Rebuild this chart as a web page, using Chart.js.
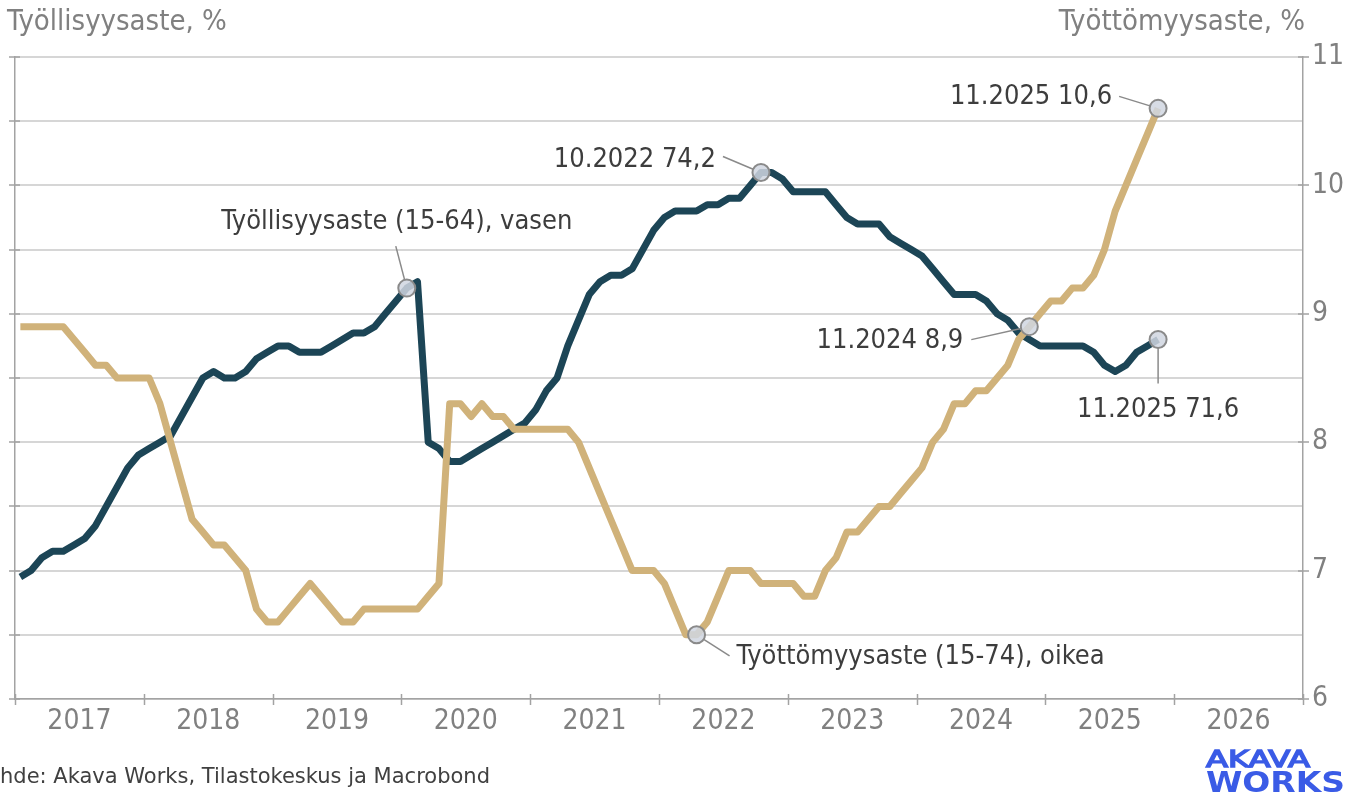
<!DOCTYPE html>
<html>
<head>
<meta charset="utf-8">
<script src="https://cdn.jsdelivr.net/npm/chart.js@4.4.1/dist/chart.umd.min.js"></script>
<style>
    html, body { margin: 0; padding: 0; background: #fff; }
    canvas { display: block; }
</style>
</head>
<body>
<canvas id="chart" width="1346" height="800"></canvas>
<script>
// Monthly data, 1.2017 - 11.2025
const years = ['2017', '2018', '2019', '2020', '2021', '2022', '2023', '2024', '2025', '2026'];

// Työllisyysaste (15-64), vasen akseli
const employment = [
    67.9, 68.0, 68.2, 68.3, 68.3, 68.4, 68.5, 68.7, 69.0, 69.3, 69.6, 69.8,
    69.9, 70.0, 70.1, 70.4, 70.7, 71.0, 71.1, 71.0, 71.0, 71.1, 71.3, 71.4,
    71.5, 71.5, 71.4, 71.4, 71.4, 71.5, 71.6, 71.7, 71.7, 71.8, 72.0, 72.2,
    72.4, 72.5, 70.0, 69.9, 69.7, 69.7, 69.8, 69.9, 70.0, 70.1, 70.2, 70.3,
    70.5, 70.8, 71.0, 71.5, 71.9, 72.3, 72.5, 72.6, 72.6, 72.7, 73.0, 73.3,
    73.5, 73.6, 73.6, 73.6, 73.7, 73.7, 73.8, 73.8, 74.0, 74.2, 74.2, 74.1,
    73.9, 73.9, 73.9, 73.9, 73.7, 73.5, 73.4, 73.4, 73.4, 73.2, 73.1, 73.0,
    72.9, 72.7, 72.5, 72.3, 72.3, 72.3, 72.2, 72.0, 71.9, 71.7, 71.6, 71.5,
    71.5, 71.5, 71.5, 71.5, 71.4, 71.2, 71.1, 71.2, 71.4, 71.5, 71.6
];

// Työttömyysaste (15-74), oikea akseli
const unemployment = [
    8.9, 8.9, 8.9, 8.9, 8.9, 8.8, 8.7, 8.6, 8.6, 8.5, 8.5, 8.5,
    8.5, 8.3, 8.0, 7.7, 7.4, 7.3, 7.2, 7.2, 7.1, 7.0, 6.7, 6.6,
    6.6, 6.7, 6.8, 6.9, 6.8, 6.7, 6.6, 6.6, 6.7, 6.7, 6.7, 6.7,
    6.7, 6.7, 6.8, 6.9, 8.3, 8.3, 8.2, 8.3, 8.2, 8.2, 8.1, 8.1,
    8.1, 8.1, 8.1, 8.1, 8.0, 7.8, 7.6, 7.4, 7.2, 7.0, 7.0, 7.0,
    6.9, 6.7, 6.5, 6.5, 6.6, 6.8, 7.0, 7.0, 7.0, 6.9, 6.9, 6.9,
    6.9, 6.8, 6.8, 7.0, 7.1, 7.3, 7.3, 7.4, 7.5, 7.5, 7.6, 7.7,
    7.8, 8.0, 8.1, 8.3, 8.3, 8.4, 8.4, 8.5, 8.6, 8.8, 8.9, 9.0,
    9.1, 9.1, 9.2, 9.2, 9.3, 9.5, 9.8, 10.0, 10.2, 10.4, 10.6
];

const FONT = "'DejaVu Sans Condensed', 'Liberation Sans', sans-serif";
const TAN = '#d0b27a';
const DARK = '#1c4556';
const AXIS = '#a3a3a3';

// Callouts: dataset 0 = unemployment, 1 = employment
const notes = [
    { ds: 1, i: 36, text: 'Työllisyysaste (15-64), vasen', dx: -10, dy: -66, align: 'center', lx: -11, ly: -42 },
    { ds: 1, i: 69, text: '10.2022 74,2', dx: -45, dy: -13, align: 'right', lx: -38, ly: -16 },
    { ds: 0, i: 106, text: '11.2025 10,6', dx: -46, dy: -11, align: 'right', lx: -39, ly: -12 },
    { ds: 0, i: 94, text: '11.2024 8,9', dx: -66, dy: 14, align: 'right', lx: -58, ly: 13 },
    { ds: 1, i: 106, text: '11.2025 71,6', dx: 0, dy: 71, align: 'center', lx: 0, ly: 44 },
    { ds: 0, i: 63, text: 'Työttömyysaste (15-74), oikea', dx: 40, dy: 22, align: 'left', lx: 33, ly: 21 }
];
const MARK_R = 8.5;

const isMarked = (ctx) => notes.some(n => n.ds === ctx.datasetIndex && n.i === ctx.dataIndex);

// Axis tick marks crossing the axis lines
const crossTicks = {
    id: 'crossTicks',
    beforeDatasetsDraw(chart) {
        const { ctx, chartArea: a, scales } = chart;
        ctx.save();
        ctx.strokeStyle = AXIS;
        ctx.lineWidth = 1.5;
        ctx.beginPath();
        scales.x.ticks.forEach(t => {
            if (t.value % 12 !== 0) return;
            const px = Math.round(scales.x.getPixelForValue(t.value)) + 0.5;
            ctx.moveTo(px, a.bottom - 5);
            ctx.lineTo(px, a.bottom + 6);
        });
        scales.y.ticks.forEach(t => {
            const py = Math.round(scales.y.getPixelForValue(t.value));
            ctx.moveTo(a.left - 6, py);
            ctx.lineTo(a.left + 5, py);
        });
        scales.y2.ticks.forEach(t => {
            if (!Number.isInteger(t.value)) return;
            const py = Math.round(scales.y2.getPixelForValue(t.value));
            ctx.moveTo(a.right - 5, py);
            ctx.lineTo(a.right + 6, py);
        });
        ctx.stroke();
        ctx.restore();
    }
};

// Callout texts, leader lines, titles, source and logo
const decorations = {
    id: 'decorations',
    afterDatasetsDraw(chart) {
        const ctx = chart.ctx;
        ctx.save();
        notes.forEach(n => {
            const p = chart.getDatasetMeta(n.ds).data[n.i];
            const sx = p.x + n.lx, sy = p.y + n.ly;
            const len = Math.hypot(p.x - sx, p.y - sy);
            const ex = p.x - (p.x - sx) / len * MARK_R;
            const ey = p.y - (p.y - sy) / len * MARK_R;
            ctx.strokeStyle = '#8a8a8a';
            ctx.lineWidth = 1.5;
            ctx.beginPath();
            ctx.moveTo(sx, sy);
            ctx.lineTo(ex, ey);
            ctx.stroke();

            ctx.fillStyle = '#3d3d3d';
            ctx.font = `27px ${FONT}`;
            ctx.textAlign = n.align;
            ctx.textBaseline = 'middle';
            ctx.fillText(n.text, p.x + n.dx, p.y + n.dy);
        });
        ctx.restore();
    },
    afterDraw(chart) {
        const ctx = chart.ctx;
        ctx.save();
        // axis titles
        ctx.fillStyle = '#808080';
        ctx.font = `29px ${FONT}`;
        ctx.textBaseline = 'alphabetic';
        ctx.textAlign = 'left';
        ctx.fillText('Työllisyysaste, %', 7, 30);
        ctx.textAlign = 'right';
        ctx.fillText('Työttömyysaste, %', 1305, 30);

        // source (cut at the left edge as in the original)
        ctx.fillStyle = '#404040';
        ctx.font = "21px 'DejaVu Sans', sans-serif";
        ctx.textAlign = 'left';
        const cut = ctx.measureText('Lä').width;
        ctx.fillText('Lähde: Akava Works, Tilastokeskus ja Macrobond', -cut, 783);

        // logo
        ctx.fillStyle = '#3a5be6';
        ctx.strokeStyle = '#3a5be6';
        const fitText = (txt, font, x, y, w, thicken) => {
            ctx.font = font;
            const m = ctx.measureText(txt).width;
            ctx.save();
            ctx.translate(x, y);
            ctx.scale(w / m, 1);
            ctx.fillText(txt, 0, 0);
            if (thicken) {
                ctx.lineWidth = thicken;
                ctx.strokeText(txt, 0, 0);
            }
            ctx.restore();
        };
        fitText('AKAVA', `23px ${FONT}`, 1206, 767, 104, 1.3);
        fitText('WORKS', `bold 28px ${FONT}`, 1206, 792, 139, 0);
        ctx.restore();
    }
};

const xTicks = [];
for (let v = 0; v <= years.length * 12; v += 6) xTicks.push({ value: v });
const leftTicks = [];
for (let v = 66; v <= 76; v += 1) leftTicks.push({ value: v });
const rightTicks = [];
for (let v = 6; v <= 11; v += 0.5) rightTicks.push({ value: v });

new Chart(document.getElementById('chart'), {
    type: 'line',
    data: {
        datasets: [
            {
                label: 'Työttömyysaste (15-74), oikea',
                data: unemployment.map((v, i) => ({ x: i + 0.5, y: v })),
                yAxisID: 'y2',
                borderColor: TAN,
                borderWidth: 7,
                borderJoinStyle: 'round',
                borderCapStyle: 'butt',
                tension: 0,
                pointRadius: ctx => isMarked(ctx) ? MARK_R : 0,
                pointBackgroundColor: 'rgba(208, 214, 224, 0.85)',
                pointBorderColor: '#8a8a8a',
                pointBorderWidth: 2
            },
            {
                label: 'Työllisyysaste (15-64), vasen',
                data: employment.map((v, i) => ({ x: i + 0.5, y: v })),
                yAxisID: 'y',
                borderColor: DARK,
                borderWidth: 7,
                borderJoinStyle: 'round',
                borderCapStyle: 'butt',
                tension: 0,
                pointRadius: ctx => isMarked(ctx) ? MARK_R : 0,
                pointBackgroundColor: 'rgba(208, 214, 224, 0.85)',
                pointBorderColor: '#8a8a8a',
                pointBorderWidth: 2
            }
        ]
    },
    options: {
        responsive: false,
        devicePixelRatio: 1,
        animation: false,
        events: [],
        layout: { padding: { top: 57, left: 0, right: 0, bottom: 0 } },
        plugins: {
            legend: { display: false },
            tooltip: { enabled: false }
        },
        scales: {
            x: {
                type: 'linear',
                position: 'bottom',
                min: 0,
                max: years.length * 12,
                afterBuildTicks: s => { s.ticks = xTicks.map(t => ({ ...t })); },
                afterFit: s => { s.height = 101; },
                grid: { drawOnChartArea: false, drawTicks: false },
                border: { display: true, color: AXIS, width: 1.5 },
                ticks: {
                    autoSkip: false,
                    maxRotation: 0,
                    minRotation: 0,
                    padding: 6,
                    color: '#808080',
                    font: { family: FONT, size: 28 },
                    callback: v => (v % 12 === 6 ? years[(v - 6) / 12] : '')
                }
            },
            y: {
                position: 'left',
                min: 66,
                max: 76,
                afterBuildTicks: s => { s.ticks = leftTicks.map(t => ({ ...t })); },
                afterFit: s => { s.width = 15; },
                grid: { drawOnChartArea: false, drawTicks: false },
                border: { display: true, color: AXIS, width: 1.5 },
                ticks: { display: false }
            },
            y2: {
                position: 'right',
                min: 6,
                max: 11,
                afterBuildTicks: s => { s.ticks = rightTicks.map(t => ({ ...t })); },
                afterFit: s => { s.width = 43; },
                grid: { color: '#d6d6d6', lineWidth: 2, drawTicks: false },
                border: { display: true, color: AXIS, width: 1.5 },
                ticks: {
                    padding: 9,
                    color: '#808080',
                    font: { family: FONT, size: 28 },
                    callback: v => (Number.isInteger(v) ? String(v) : '')
                }
            }
        }
    },
    plugins: [crossTicks, decorations]
});
</script>
</body>
</html>
